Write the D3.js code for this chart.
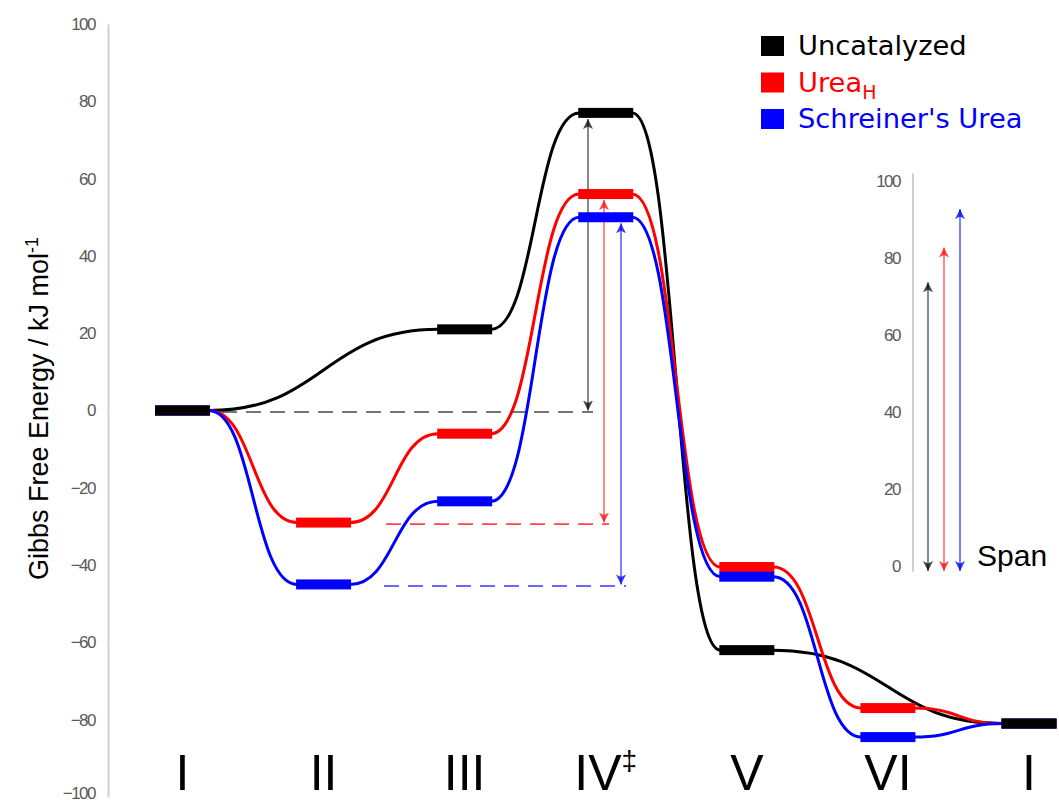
<!DOCTYPE html>
<html>
<head>
<meta charset="utf-8">
<script src="https://cdn.jsdelivr.net/npm/d3@7"></script>
<style>
  html, body { margin: 0; padding: 0; background: #fff; }
  svg { display: block; }
</style>
</head>
<body>
<svg id="chart" width="1059" height="803"></svg>
<script>
// Reaction steps along the profile (the cycle returns to I)
const stepLabels = ["I", "II", "III", "IV", "V", "VI", "I"];
const stepMarks  = ["", "", "", "‡", "", "", ""];

// Gibbs free energies, kJ/mol (null = no such intermediate)
const uncatalyzed = [0, null, 21, 77, -62, null, -81];
const ureaH       = [0, -29, -6, 56, -40.5, -77, -81];
const schreiner   = [0, -45, -23.5, 50, -43, -84.5, -81];

const seriesNames  = ["Uncatalyzed", "Urea", "Schreiner's Urea"];
const seriesColors = ["#000000", "#ff0000", "#0000ff"];

// Energetic span of each pathway, kJ/mol
const spans = [75, 84, 94];

// Y axis ticks
const yTicks = [-100, -80, -60, -40, -20, 0, 20, 40, 60, 80, 100];
const spanTicks = [0, 20, 40, 60, 80, 100];

const svg = d3.select("#chart");

const x = d3.scalePoint().domain(d3.range(stepLabels.length)).range([182.5, 1029]);
const y = d3.scaleLinear().domain([-100, 100]).range([797, 24]);
const halfW = 27.5;

const tickFont = sel => sel
  .attr("font-family", "Liberation Sans, Arial, sans-serif")
  .attr("font-size", 17).attr("letter-spacing", -1.5).attr("fill", "#595959");

// Main axis
const yAxis = svg.append("g")
  .attr("transform", "translate(108,0)")
  .call(d3.axisLeft(y).tickValues(yTicks).tickSize(0).tickPadding(13).tickSizeOuter(0));
yAxis.select(".domain").attr("stroke", "#d0d0d0").attr("stroke-width", 2);
yAxis.selectAll("text").call(tickFont);
yAxis.selectAll(".tick").filter(d => d === -100).select("text").attr("dy", "0.1em");

// Axis title
svg.append("text")
  .attr("transform", `translate(48,${y(0) - 2}) rotate(-90)`)
  .attr("text-anchor", "middle")
  .attr("font-family", "Liberation Sans, Arial, sans-serif")
  .attr("font-size", 27)
  .attr("fill", "#000")
  .call(t => {
    t.append("tspan").text("Gibbs Free Energy / kJ mol");
    t.append("tspan").attr("dy", -10).attr("font-size", 18).text("-1");
  });

// Step labels
const stepText = svg.append("g").selectAll("text")
  .data(stepLabels)
  .join("text")
  .attr("x", (d, i) => x(i))
  .attr("y", 790)
  .attr("text-anchor", "middle")
  .attr("font-family", "Liberation Sans, Arial, sans-serif")
  .attr("font-size", 50)
  .attr("fill", "#000");
stepText.append("tspan").text(d => d);
stepText.each(function (d, i) {
  if (stepMarks[i] !== "") {
    d3.select(this).append("tspan").attr("dy", -20).attr("font-size", 28).text(stepMarks[i]);
  }
});

// Arrow markers
const defs = svg.append("defs");
function marker(id, color, opacity) {
  defs.append("marker")
    .attr("id", id)
    .attr("viewBox", "0 0 10 10")
    .attr("refX", 10).attr("refY", 5)
    .attr("markerWidth", 10).attr("markerHeight", 10)
    .attr("markerUnits", "userSpaceOnUse")
    .attr("orient", "auto-start-reverse")
    .append("path")
    .attr("d", "M0,0 L10,5 L0,10 L2.5,5 Z")
    .attr("fill", color).attr("fill-opacity", opacity);
}
const arrowStyle = [
  { color: "#000", opacity: 0.72 },
  { color: "#ff0000", opacity: 0.72 },
  { color: "#0000ff", opacity: 0.78 }
];
arrowStyle.forEach((s, i) => marker("arr" + i, s.color, s.opacity));

const allSeries = [uncatalyzed, ureaH, schreiner];

// Reference levels and spans in the main diagram
const tsIndex = 3;
const refIndex = [0, 1, 1];
const arrowX = [588, 604, 621];
const dashStart = [222, 386, 384];

allSeries.forEach((s, k) => {
  const ref = s[refIndex[k]];
  const st = arrowStyle[k];
  svg.append("line")
    .attr("x1", dashStart[k]).attr("x2", arrowX[k] + 5)
    .attr("y1", y(ref) + 1.5).attr("y2", y(ref) + 1.5)
    .attr("stroke", st.color).attr("stroke-opacity", st.opacity)
    .attr("stroke-width", 1.6).attr("stroke-dasharray", "15,9");
});

// Connecting curves between levels
function link(x0, y0, x1, y1) {
  const mx = (x0 + x1) / 2;
  return `M${x0},${y0} C${mx},${y0} ${mx},${y1} ${x1},${y1}`;
}
allSeries.forEach((s, k) => {
  const idx = s.map((v, i) => v === null ? -1 : i).filter(i => i >= 0);
  const segs = d3.pairs(idx);
  svg.append("g").selectAll("path")
    .data(segs)
    .join("path")
    .attr("d", ([a, b]) => link(x(a) + halfW - 1, y(s[a]), x(b) - halfW + 1, y(s[b])))
    .attr("fill", "none")
    .attr("stroke", seriesColors[k])
    .attr("stroke-width", 3);
});

// Span arrows in the main diagram
allSeries.forEach((s, k) => {
  svg.append("line")
    .attr("x1", arrowX[k]).attr("x2", arrowX[k])
    .attr("y1", y(s[refIndex[k]])).attr("y2", y(s[tsIndex]) + 6)
    .attr("stroke", arrowStyle[k].color).attr("stroke-opacity", arrowStyle[k].opacity)
    .attr("stroke-width", 1.3)
    .attr("marker-start", `url(#arr${k})`)
    .attr("marker-end", `url(#arr${k})`);
});

// Energy levels (black drawn last so shared levels read as black)
[1, 2, 0].forEach(k => {
  const s = allSeries[k];
  svg.append("g").selectAll("rect")
    .data(s.map((v, i) => ({ v, i })).filter(d => d.v !== null))
    .join("rect")
    .attr("x", d => x(d.i) - halfW)
    .attr("y", d => y(d.v) - 5)
    .attr("width", halfW * 2)
    .attr("height", 10)
    .attr("fill", seriesColors[k]);
});

// Legend
const legend = svg.append("g").attr("transform", "translate(761,36)");
seriesNames.forEach((name, k) => {
  const row = legend.append("g").attr("transform", `translate(0,${k * 36.5})`);
  row.append("rect").attr("width", 23).attr("height", 20).attr("fill", seriesColors[k]);
  const t = row.append("text")
    .attr("x", 37).attr("y", 19)
    .attr("font-family", "DejaVu Sans, Verdana, sans-serif")
    .attr("font-size", 27.3)
    .attr("fill", seriesColors[k]);
  t.append("tspan").text(name);
  if (k === 1) t.append("tspan").attr("dy", 7).attr("font-size", 19).text("H");
});

// Inset: energetic span comparison
const sy = d3.scaleLinear().domain([0, 100]).range([566, 181]);
svg.append("line")
  .attr("x1", 913).attr("x2", 913)
  .attr("y1", sy(102)).attr("y2", sy(-1.5))
  .attr("stroke", "#d0d0d0").attr("stroke-width", 2);
const sAxis = svg.append("g")
  .attr("transform", "translate(913,0)")
  .call(d3.axisLeft(sy).tickValues(spanTicks).tickSize(0).tickPadding(13));
sAxis.select(".domain").remove();
sAxis.selectAll("text").call(tickFont);

const spanX = [928, 944, 960];
spans.forEach((v, k) => {
  svg.append("line")
    .attr("x1", spanX[k]).attr("x2", spanX[k])
    .attr("y1", sy(0) + 5).attr("y2", sy(0) + 5 - (sy(0) - sy(v)))
    .attr("stroke", arrowStyle[k].color).attr("stroke-opacity", arrowStyle[k].opacity)
    .attr("stroke-width", 1.3)
    .attr("marker-start", `url(#arr${k})`)
    .attr("marker-end", `url(#arr${k})`);
});
svg.append("text")
  .attr("x", 977).attr("y", 566)
  .attr("font-family", "Liberation Sans, Arial, sans-serif")
  .attr("font-size", 30)
  .attr("fill", "#000")
  .text("Span");
</script>
</body>
</html>
